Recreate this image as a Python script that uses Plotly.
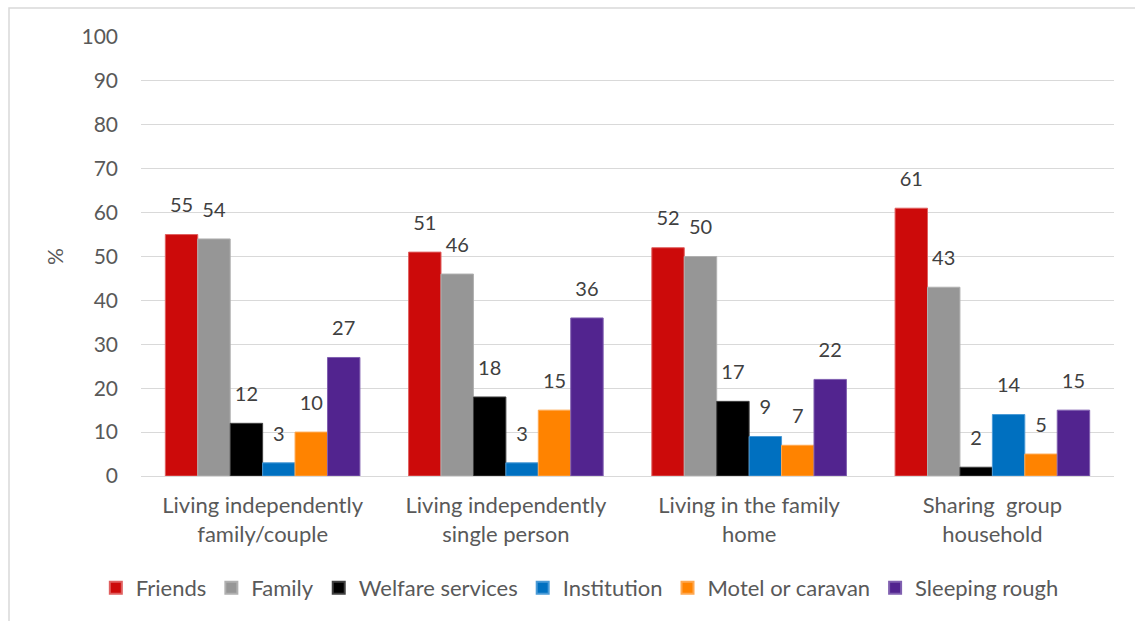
import plotly.graph_objects as go

# Where young people stayed, by previous living situation (%)
categories = [
    "Living independently<br>family/couple",
    "Living independently<br>single person",
    "Living in the family<br>home",
    "Sharing  group<br>household",
]
series_names = ["Friends", "Family", "Welfare services", "Institution",
                "Motel or caravan", "Sleeping rough"]
friends = [55, 51, 52, 61]
family = [54, 46, 50, 43]
welfare = [12, 18, 17, 2]
institution = [3, 3, 9, 14]
motel = [10, 15, 7, 5]
sleeping_rough = [27, 36, 22, 15]
y_ticks = [0, 10, 20, 30, 40, 50, 60, 70, 80, 90, 100]

series_values = [friends, family, welfare, institution, motel, sleeping_rough]
fill_colors = ["#CC0A0A", "#969696", "#000000", "#0070C0", "#FF8300", "#52248F"]
edge_colors = ["#E06060", "#B0B0B0", "#404040", "#4A9AD6", "#FFA850", "#8060B0"]

FONT = "Lato"
TEXT_GREY = "#595959"
LABEL_GREY = "#404040"
AXIS_SIZE = 21

fig = go.Figure()

for name, vals, fc, ec in zip(series_names, series_values, fill_colors, edge_colors):
    fig.add_trace(go.Bar(
        x=categories, y=vals, name=name,
        marker=dict(color=fc, line=dict(color=ec, width=1)),
        hoverinfo="skip",
    ))

# value labels, grouped the same way as the bars
for name, vals in zip(series_names, series_values):
    fig.add_trace(go.Scatter(
        x=categories, y=vals, mode="markers+text",
        text=[str(v) for v in vals], textposition="top center",
        textfont=dict(family=FONT, size=20, color=LABEL_GREY),
        marker=dict(size=26, opacity=0),
        showlegend=False, hoverinfo="skip", cliponaxis=False,
    ))

fig.update_layout(
    width=1135, height=621,
    margin=dict(l=141, r=21, t=37, b=145),
    paper_bgcolor="white", plot_bgcolor="white",
    barmode="group", bargap=0.2, bargroupgap=0,
    scattermode="group", scattergap=0.2,
    font=dict(family=FONT, size=AXIS_SIZE, color=TEXT_GREY),
    showlegend=True,
    legend=dict(
        orientation="h", x=0.451, xref="paper", xanchor="center",
        y=-0.255, yanchor="middle",
        font=dict(family=FONT, size=22, color=TEXT_GREY),
        itemsizing="constant", traceorder="normal",
        itemwidth=30,
    ),
    shapes=[dict(
        type="rect", xref="paper", yref="paper",
        x0=-132 / 973, x1=1.05, y0=-0.5, y1=1 + 29 / 439,
        line=dict(color="#D9D9D9", width=1.5), fillcolor="rgba(0,0,0,0)",
        layer="below",
    )],
)

fig.update_xaxes(
    showgrid=False, showline=False, ticks="", ticklabelstandoff=14,
    tickfont=dict(family=FONT, size=22, color=TEXT_GREY),
)
fig.update_yaxes(
    range=[0, 100], tickvals=y_ticks, ticktext=[str(t) for t in y_ticks],
    showgrid=True, gridcolor="#D9D9D9", gridwidth=1.3,
    zeroline=True, zerolinecolor="#D9D9D9", zerolinewidth=1.3,
    showline=False, ticks="", ticklabelstandoff=22,
    tickfont=dict(family=FONT, size=AXIS_SIZE, color=TEXT_GREY),
    title=dict(text="%", font=dict(family=FONT, size=21, color=TEXT_GREY), standoff=12),
)

fig.write_html("out.html")
